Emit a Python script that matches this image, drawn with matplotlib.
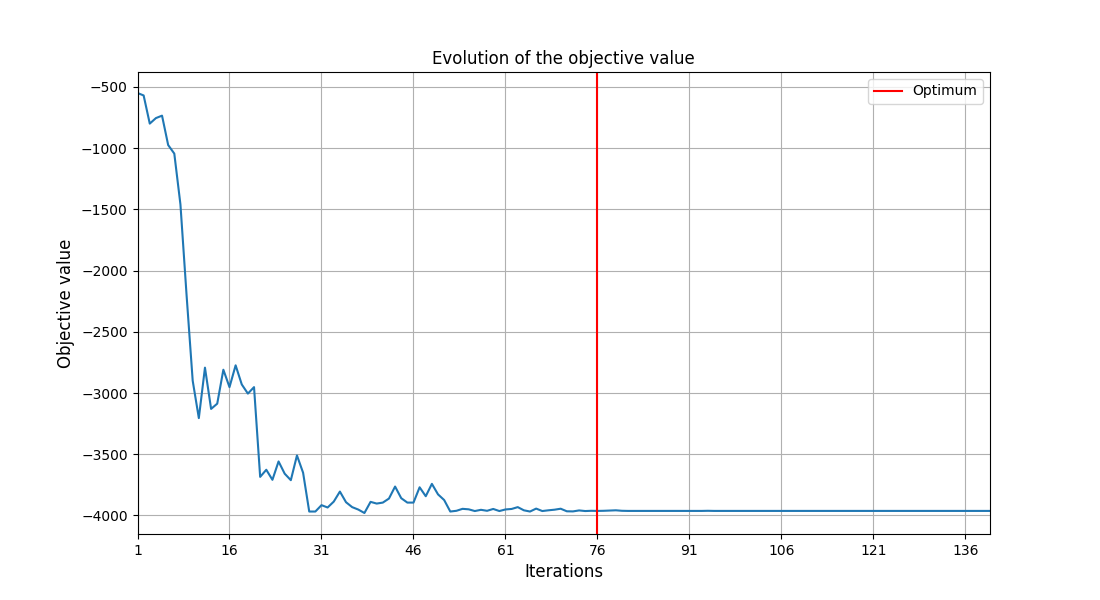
import matplotlib
matplotlib.use("Agg")
import matplotlib.pyplot as plt

# Objective value per iteration (iterations 1..140)
objective_head = [
    -550, -570, -800, -755, -735, -975, -1045, -1460, -2200, -2900,
    -3205, -2793, -3130, -3087, -2810, -2952, -2774, -2930, -3005, -2952,
    -3685, -3627, -3709, -3559, -3659, -3712, -3510, -3651, -3968, -3968,
    -3916, -3935, -3887, -3805, -3892, -3932, -3952, -3980, -3889, -3903,
    -3895, -3862, -3764, -3859, -3895, -3895, -3770, -3843, -3742, -3828,
    -3874, -3968, -3962, -3946, -3950, -3964, -3954, -3962, -3947, -3964,
    -3951, -3947, -3932, -3958, -3968, -3944, -3964, -3958, -3953, -3945,
    -3966, -3967, -3959, -3964, -3962, -3963, -3962, -3960, -3958, -3962,
]
objective_tail = [
    -3963, -3963, -3963, -3963, -3963, -3963, -3963, -3963, -3963, -3963,
    -3963, -3963, -3963, -3962, -3963, -3963, -3963, -3963, -3963, -3963,
    -3963, -3963, -3963, -3963, -3963, -3963, -3963, -3963, -3963, -3963,
    -3963, -3963, -3963, -3963, -3963, -3963, -3963, -3963, -3963, -3963,
    -3963, -3963, -3963, -3963, -3963, -3963, -3963, -3963, -3963, -3963,
    -3963, -3963, -3963, -3963, -3963, -3963, -3963, -3963, -3963, -3963,
]
objective = objective_head + objective_tail
iterations = list(range(1, len(objective) + 1))
optimum_iteration = 76
xtick_values = list(range(1, 141, 15))

fig, ax = plt.subplots(figsize=(11, 6), dpi=100)
ax.plot(iterations, objective, color="#1f77b4")
ax.axvline(optimum_iteration, color="red", label="Optimum")
ax.set_xlim(1, len(objective))
ax.set_xticks(xtick_values)
ax.grid(True)
ax.set_title("Evolution of the objective value")
ax.set_xlabel("Iterations", fontsize=12)
ax.set_ylabel("Objective value", fontsize=12)
ax.legend(loc="upper right")
fig.savefig("out.png")
